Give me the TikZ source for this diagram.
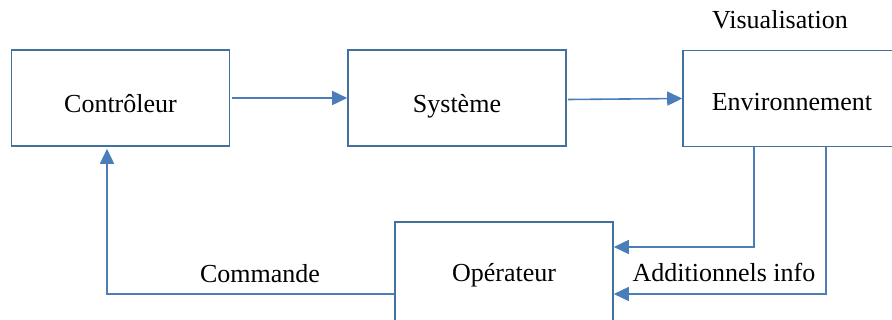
\documentclass[tikz,border=0pt]{standalone}
\usepackage{fontspec}
\setmainfont{Liberation Serif}
\usetikzlibrary{arrows.meta,calc}
\definecolor{boxblue}{RGB}{65,113,156}
\definecolor{arrblue}{RGB}{74,126,187}
\begin{document}
\begin{tikzpicture}[x=1pt,y=-1pt,
  blockbox/.style={draw=boxblue,line width=1.6pt,minimum width=218pt,minimum height=96pt,inner sep=0pt,text height=29pt,text depth=0pt,font=\fontsize{26}{30}\selectfont},
  arr/.style={draw=arrblue,line width=1.6pt,-{Triangle[length=15pt,width=14pt]}},
  lbl/.style={font=\fontsize{26}{30}\selectfont,inner sep=0pt}]
\useasboundingbox (0,0) rectangle (892,320);
\clip (0,0) rectangle (892,320);
\node[blockbox] (c) at (120.5,98) {Contrôleur};
\node[blockbox] (s) at (457,98) {Système};
\node[blockbox,text height=25pt] (e) at (792,98.5) {Environnement};
\node[blockbox,minimum height=120pt,text height=10pt,text depth=10pt] (o) at (504,282) {Opérateur};
\node[lbl] (vis) at (780,20) {Visualisation};
\node[lbl] (cmd) at (260,274) {Commande};
\node[lbl] (add) at (724,272) {Additionnels info};
\draw[arr] ($(c.east)+(2,0)$) -- (s.west);
\draw[arr] ($(s.east)+(1,1.5)$) -- (e.west);
\draw[arr] ($(e.south west)+(72,0)$) |- ($(o.east)+(0,-35)$);
\draw[arr] ($(e.south west)+(144,0)$) |- ($(o.east)+(0,12)$);
\draw[arr] ($(o.west)+(0,12)$) -| ($(c.south)+(-13.5,2)$);
\end{tikzpicture}
\end{document}
